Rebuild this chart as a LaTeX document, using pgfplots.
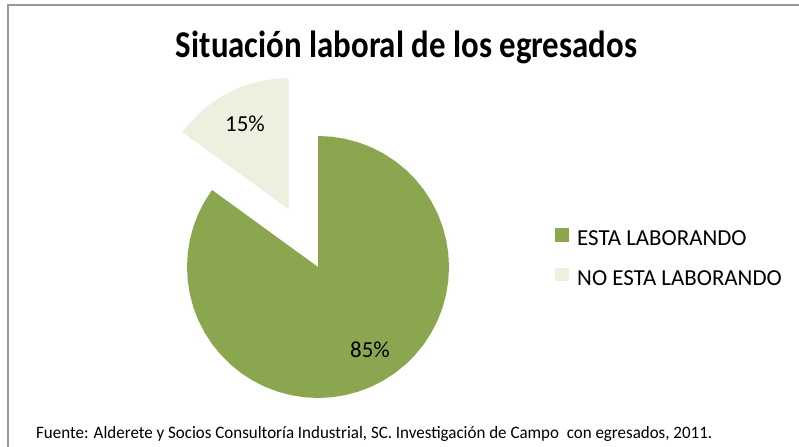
\documentclass[border=0pt]{standalone}
\usepackage{pgfplots}
\pgfplotsset{compat=1.18}
\usepackage{fontspec}
\setmainfont{Carlito}
\definecolor{pieA}{RGB}{138,167,79}
\definecolor{pieB}{RGB}{235,241,222}
\definecolor{frameg}{RGB}{152,152,152}
\begin{document}
\begin{tikzpicture}[x=1bp,y=1bp]
\path[use as bounding box] (0,0) rectangle (799,447);
\fill[white] (0,0) rectangle (799,447);
\draw[frameg, line width=2bp] (7.5,-5) -- (7.5,441.5) -- (805,441.5);
\node[anchor=base, inner sep=0pt] at (406.5,389)
  {\resizebox{461bp}{\height}{\fontsize{38}{44}\selectfont\bfseries Situación laboral de los egresados}};
\node[anchor=base west, inner sep=0pt] at (36,8)
  {\resizebox{676bp}{\height}{\fontsize{17.5}{20}\selectfont Fuente: Alderete y Socios Consultoría Industrial, SC. Investigación de Campo \ con egresados, 2011.}};
\begin{axis}[
  at={(318bp,180bp)}, anchor=center,
  width=262bp, height=262bp, scale only axis,
  xmin=-1, xmax=1, ymin=-1, ymax=1,
  hide axis, clip=false,
  legend cell align=left,
  legend image code/.code={\fill[#1,draw=none] (0bp,-2.7bp) rectangle (13.5bp,10.7bp);},
  legend style={at={(1.4046,0.648)}, anchor=north west, draw=none, fill=none,
    inner sep=0pt, row sep=18.5bp, column sep=6.5bp,
    font=\fontsize{23}{26}\selectfont},
]
% ESTA LABORANDO: 85 % -> 306 degrees, clockwise from 90
\addplot[data cs=polar, fill=pieA, draw=none, forget plot] coordinates {
(0,0) (90,1) (84,1) (78,1) (72,1) (66,1) (60,1) (54,1) (48,1) (42,1) (36,1)
(30,1) (24,1) (18,1) (12,1) (6,1) (0,1) (-6,1) (-12,1) (-18,1) (-24,1)
(-30,1) (-36,1) (-42,1) (-48,1) (-54,1) (-60,1) (-66,1) (-72,1) (-78,1) (-84,1)
(-90,1) (-96,1) (-102,1) (-108,1) (-114,1) (-120,1) (-126,1) (-132,1) (-138,1) (-144,1)
(-150,1) (-156,1) (-162,1) (-168,1) (-174,1) (-180,1) (-186,1) (-192,1) (-198,1) (-204,1)
(-210,1) (-216,1) (0,0)} \closedcycle;
% NO ESTA LABORANDO: 15 % -> 54 degrees, exploded along 117 degrees
\addplot[data cs=polar, fill=pieB, draw=none, forget plot, xshift=-29.5bp, yshift=57.9bp] coordinates {
(0,0) (144,1) (138,1) (132,1) (126,1) (120,1) (114,1) (108,1) (102,1) (96,1) (90,1) (0,0)} \closedcycle;
\addlegendimage{fill=pieA}
\addlegendentry{ESTA LABORANDO}
\addlegendimage{fill=pieB}
\addlegendentry{NO ESTA LABORANDO}
\node[font=\fontsize{23}{26}\selectfont] at (axis cs:0.397,-0.634) {85\%};
\node[font=\fontsize{23}{26}\selectfont] at (axis cs:-0.557,1.092) {15\%};
\end{axis}
\end{tikzpicture}
\end{document}
